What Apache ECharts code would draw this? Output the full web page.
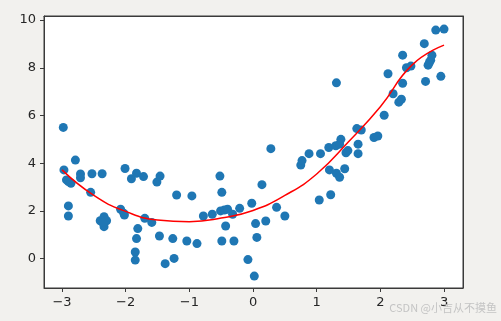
<!DOCTYPE html>
<html>
<head>
<meta charset="utf-8">
<script src="https://cdn.jsdelivr.net/npm/echarts@6/dist/echarts.min.js"></script>
<style>
html,body{margin:0;padding:0;background:#f2f1ee;}
#main{width:501px;height:321px;}
</style>
</head>
<body>
<div id="main"></div>
<script>
// Scatter points
var pointsX = [-2.98,-2.97,-2.93,-2.90,-2.86,-2.90,-2.90,-2.79,-2.71,-2.71,-2.55,-2.53,-2.37,-2.40,-2.34,-2.32,-2.30,-2.34,-2.36,-2.08,-2.03,-2.02,-2.01,-1.91,-1.83,-1.72,-1.81,-1.83,-1.85,-1.85,-1.70,-1.59,-1.51,-1.46,-1.47,-1.38,-1.24,-1.26,-1.20,-1.04,-0.96,-0.88,-0.78,-0.64,-0.52,-0.49,-0.51,-0.45,-0.40,-0.43,-0.49,-0.30,-0.32,-0.21,-0.02,-0.08,0.02,0.04,0.06,0.14,0.20,0.28,0.37,0.50,0.75,0.77,0.88,1.06,1.04,1.19,1.20,1.22,1.30,1.31,1.31,1.36,1.38,1.36,1.44,1.46,1.49,1.63,1.70,1.65,1.65,1.90,1.96,2.06,2.12,2.20,2.29,2.33,2.35,2.35,2.41,2.48,2.69,2.71,2.75,2.79,2.81,2.87,3.00,2.95,2.77];
var pointsY = [5.50,3.72,3.30,3.23,3.16,2.21,1.79,4.13,3.55,3.39,2.78,3.56,3.56,1.59,1.76,1.62,1.59,1.34,1.51,2.07,1.90,1.83,3.78,3.35,3.58,3.44,1.26,0.84,0.28,-0.06,1.69,1.52,3.21,3.46,0.95,-0.21,0.01,0.84,2.67,0.74,2.63,0.63,1.79,1.86,3.46,2.78,2.00,2.04,2.07,1.37,0.74,0.74,1.86,2.11,2.32,-0.04,-0.73,1.47,0.89,3.10,1.58,4.61,2.15,1.79,3.92,4.11,4.40,4.40,2.46,4.66,3.72,2.68,4.73,7.37,3.58,3.41,5.00,4.80,3.77,4.44,4.53,5.45,5.39,4.80,4.40,5.08,5.14,6.01,7.75,6.91,6.56,6.68,7.35,8.53,8.00,8.07,9.01,7.43,8.11,8.32,8.53,9.58,9.62,7.64,8.22];
// Fitted curve
var curveX = [-3,-2.5,-2,-1.5,-1,-0.5,0,0.5,1,1.5,2,2.5,3];
var curveY = [3.72,2.65,1.98,1.62,1.55,1.70,2.02,2.65,3.55,4.90,6.37,8.12,8.95];
var xTicks = [-3,-2,-1,0,1,2,3];
var yTicks = [0,2,4,6,8,10];
var watermark = 'CSDN @小吉从不摸鱼';

var scatterData = pointsX.map(function(x,i){return [x, pointsY[i]];});
var curveData = curveX.map(function(x,i){return [x, curveY[i]];});
function fmt(v){ return v < 0 ? '\u2212' + Math.abs(v) : String(v); }

var lineCol = '#3a3a3a';
var labelStyle = {formatter:fmt,margin:8,color:'#262626',fontFamily:'DejaVu Sans',fontSize:13};
var chart = echarts.init(document.getElementById('main'), null, {renderer:'canvas'});
chart.setOption({
  animation:false,
  backgroundColor:'#f2f1ee',
  grid:{left:44,right:38,top:16,bottom:33,show:true,backgroundColor:'#ffffff',borderColor:lineCol,borderWidth:1,containLabel:false},
  xAxis:[
    {type:'value',position:'bottom',min:-3.283,max:3.298,
     axisLine:{show:true,onZero:false,lineStyle:{color:lineCol,width:1}},splitLine:{show:false},
     axisTick:{show:true,customValues:xTicks,length:4,lineStyle:{color:lineCol}},
     axisLabel:Object.assign({customValues:xTicks},labelStyle)},
    {type:'value',position:'top',min:-3.283,max:3.298,
     axisLine:{show:true,onZero:false,lineStyle:{color:lineCol,width:1}},splitLine:{show:false},
     axisTick:{show:false},axisLabel:{show:false}}
  ],
  yAxis:[
    {type:'value',position:'left',min:-1.23,max:10.17,
     axisLine:{show:true,onZero:false,lineStyle:{color:lineCol,width:1}},splitLine:{show:false},
     axisTick:{show:true,customValues:yTicks,length:4,lineStyle:{color:lineCol}},
     axisLabel:Object.assign({customValues:yTicks},labelStyle)},
    {type:'value',position:'right',min:-1.23,max:10.17,
     axisLine:{show:true,onZero:false,lineStyle:{color:lineCol,width:1}},splitLine:{show:false},
     axisTick:{show:false},axisLabel:{show:false}}
  ],
  series:[
    {type:'scatter',data:scatterData,symbolSize:9,itemStyle:{color:'#1f77b4',opacity:1},z:2},
    {type:'line',data:curveData,smooth:0.5,showSymbol:false,lineStyle:{color:'#ff0000',width:1.5},z:3}
  ],
  graphic:[{type:'text',right:4,top:302,style:{text:watermark,fill:'#c4c4c4',fontSize:11,fontFamily:'Noto Sans CJK SC'},z:100}]
});
</script>
</body>
</html>
